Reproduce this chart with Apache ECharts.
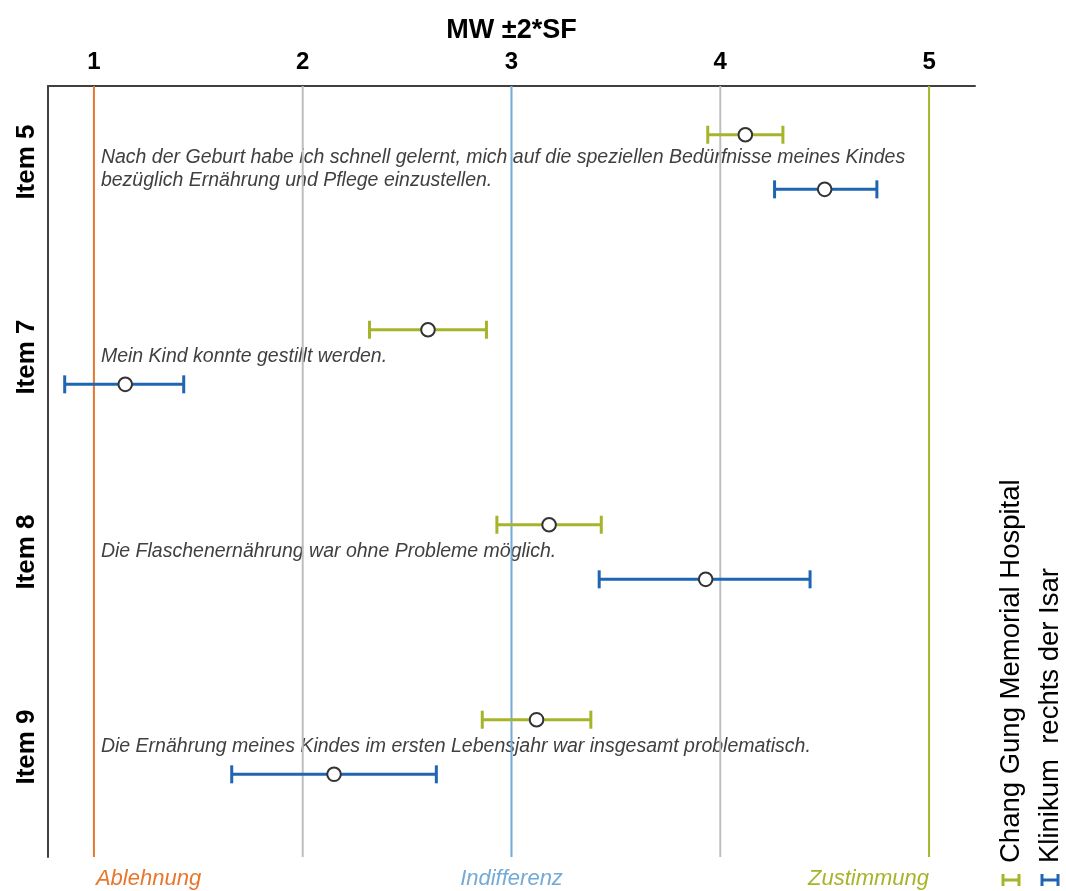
<!DOCTYPE html>
<html>
<head>
<meta charset="utf-8">
<script src="https://cdn.jsdelivr.net/npm/echarts@6/dist/echarts.min.js"></script>
<style>
  html, body { margin: 0; padding: 0; background: #fff; }
  #chart { width: 1066px; height: 891px; }
</style>
</head>
<body>
<div id="chart"></div>
<script>
// Items (rows, top to bottom) and their statements
const items = ['Item 5', 'Item 7', 'Item 8', 'Item 9'];
const statements = [
  'Nach der Geburt habe ich schnell gelernt, mich auf die speziellen Bedürfnisse meines Kindes\nbezüglich Ernährung und Pflege einzustellen.',
  'Mein Kind konnte gestillt werden.',
  'Die Flaschenernährung war ohne Probleme möglich.',
  'Die Ernährung meines Kindes im ersten Lebensjahr war insgesamt problematisch.'
];

// Chang Gung Memorial Hospital: mean and mean ± 2*SE
const cgMean = [4.12, 2.60, 3.18, 3.12];
const cgLow  = [3.94, 2.32, 2.93, 2.86];
const cgHigh = [4.30, 2.88, 3.43, 3.38];

// Klinikum rechts der Isar: mean and mean ± 2*SE
const krMean = [4.50, 1.15, 3.93, 2.15];
const krLow  = [4.26, 0.86, 3.42, 1.66];
const krHigh = [4.75, 1.43, 4.43, 2.64];

// Scale ticks and anchor labels
const tickValues = [1, 2, 3, 4, 5];
const anchorValues = [1, 3, 5];
const anchorLabels = ['Ablehnung', 'Indifferenz', 'Zustimmung'];

const seriesNames = ['Chang Gung Memorial Hospital', 'Klinikum  rechts der Isar'];

const COL_CG = '#A6B42B';
const COL_KR = '#1F65AF';
const refColors = ['#E8772E', '#BEBEBE', '#74AAD6', '#BEBEBE', '#A6B42B'];
const anchorColors = ['#E8772E', '#74AAD6', '#A6B42B'];

const X_MIN = 0.78, X_MAX = 5.22;
const Y_MIN = -0.39, Y_MAX = 3.564;
const FONT = '"Liberation Sans", Arial, sans-serif';

function errorBarSeries(name, color, mean, low, high, offset) {
  return {
    name: name,
    type: 'custom',
    coordinateSystem: 'cartesian2d',
    z: 5,
    data: mean.map((m, i) => [low[i], i, high[i], m]),
    encode: { x: [0, 2, 3], y: 1 },
    renderItem: function (params, api) {
      const yv = api.value(1) + offset;
      const pL = api.coord([api.value(0), yv]);
      const pH = api.coord([api.value(2), yv]);
      const pM = api.coord([api.value(3), yv]);
      const cap = 9;
      const ls = { stroke: color, lineWidth: 3 };
      return {
        type: 'group',
        children: [
          { type: 'line', shape: { x1: pL[0], y1: pL[1], x2: pH[0], y2: pH[1] }, style: ls },
          { type: 'line', shape: { x1: pL[0], y1: pL[1] - cap, x2: pL[0], y2: pL[1] + cap }, style: ls },
          { type: 'line', shape: { x1: pH[0], y1: pH[1] - cap, x2: pH[0], y2: pH[1] + cap }, style: ls },
          { type: 'circle', shape: { cx: pM[0], cy: pM[1], r: 6.8 },
            style: { fill: '#fff', stroke: '#333', lineWidth: 2 } }
        ]
      };
    }
  };
}

const option = {
  animation: false,
  backgroundColor: '#fff',
  grid: { left: 48, right: 91, top: 86, bottom: 34, containLabel: false },
  xAxis: {
    type: 'value',
    position: 'top',
    min: X_MIN,
    max: X_MAX,
    name: 'MW ±2*SF',
    nameLocation: 'middle',
    nameGap: 42,
    nameTextStyle: { fontFamily: FONT, fontWeight: 'bold', fontSize: 27, color: '#000' },
    axisLine: { show: true, onZero: false, lineStyle: { color: '#404040', width: 2 } },
    axisTick: { show: false },
    splitLine: { show: false },
    axisLabel: {
      customValues: tickValues,
      margin: 12,
      fontFamily: FONT, fontWeight: 'bold', fontSize: 24, color: '#000'
    }
  },
  yAxis: {
    type: 'value',
    inverse: true,
    min: Y_MIN,
    max: Y_MAX,
    axisLine: { show: true, onZero: false, lineStyle: { color: '#404040', width: 2 } },
    axisTick: { show: false },
    splitLine: { show: false },
    axisLabel: {
      customValues: items.map((_, i) => i),
      formatter: v => items[Math.round(v)] || '',
      rotate: 90,
      margin: 8,
      fontFamily: FONT, fontWeight: 'bold', fontSize: 26, color: '#000'
    }
  },
  series: [
    {
      // vertical reference lines at each scale point
      name: 'ref',
      type: 'custom',
      coordinateSystem: 'cartesian2d',
      z: 1,
      silent: true,
      data: tickValues.map((v, i) => [v, i]),
      renderItem: function (params, api) {
        const i = params.dataIndex;
        const top = api.coord([api.value(0), Y_MIN]);
        const bot = api.coord([api.value(0), Y_MAX]);
        return {
          type: 'line',
          shape: { x1: top[0], y1: top[1], x2: bot[0], y2: bot[1] },
          style: { stroke: refColors[i], lineWidth: 2 }
        };
      }
    },
    {
      // statements written inside each item row
      name: 'statements',
      type: 'custom',
      coordinateSystem: 'cartesian2d',
      z: 0,
      silent: true,
      data: items.map((_, i) => [1, i]),
      renderItem: function (params, api) {
        const p = api.coord([api.value(0), api.value(1) + (params.dataIndex === 0 ? 0.035 : 0)]);
        return {
          type: 'text',
          x: p[0] + 7,
          y: p[1],
          style: {
            text: statements[params.dataIndex],
            font: 'italic 19.5px ' + FONT,
            fill: '#404040',
            align: 'left', textAlign: 'left',
            verticalAlign: 'middle', textVerticalAlign: 'middle',
            lineHeight: 23
          }
        };
      }
    },
    {
      // scale anchor labels below the plot
      name: 'anchors',
      type: 'custom',
      coordinateSystem: 'cartesian2d',
      clip: false,
      silent: true,
      data: anchorValues.map((v, i) => [v, i]),
      renderItem: function (params, api) {
        const i = params.dataIndex;
        const p = api.coord([api.value(0), Y_MAX]);
        const align = i === 0 ? 'left' : (i === anchorValues.length - 1 ? 'right' : 'center');
        return {
          type: 'text',
          x: p[0] + (i === 0 ? 2 : 0),
          y: p[1] + 22,
          style: {
            text: anchorLabels[i],
            font: 'italic 22px ' + FONT,
            fill: anchorColors[i],
            align: align, textAlign: align,
            verticalAlign: 'middle', textVerticalAlign: 'middle'
          }
        };
      }
    },
    errorBarSeries(seriesNames[0], COL_CG, cgMean, cgLow, cgHigh, -0.14),
    errorBarSeries(seriesNames[1], COL_KR, krMean, krLow, krHigh, 0.14)
  ]
};

// Vertical legend at the right edge, reading bottom to top
function legendEntry(x, color, label) {
  const ls = { stroke: color, lineWidth: 3 };
  return [
    { type: 'line', shape: { x1: x - 8, y1: 880, x2: x + 8, y2: 880 }, style: ls },
    { type: 'line', shape: { x1: x - 8, y1: 874, x2: x - 8, y2: 886 }, style: ls },
    { type: 'line', shape: { x1: x + 8, y1: 874, x2: x + 8, y2: 886 }, style: ls },
    {
      type: 'text', x: x, y: 863, rotation: Math.PI / 2,
      style: {
        text: label, font: '27.5px ' + FONT, fill: '#000',
        align: 'left', textAlign: 'left',
        verticalAlign: 'middle', textVerticalAlign: 'middle'
      }
    }
  ];
}
option.graphic = [].concat(
  legendEntry(1011, COL_CG, seriesNames[0]),
  legendEntry(1050, COL_KR, seriesNames[1])
);

const chart = echarts.init(document.getElementById('chart'), null, { renderer: 'canvas' });
chart.setOption(option);
</script>
</body>
</html>
